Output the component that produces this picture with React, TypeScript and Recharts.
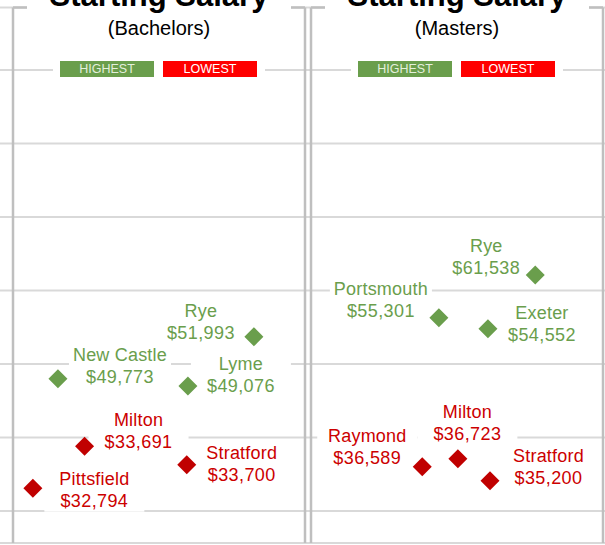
import { CartesianGrid, ReferenceLine, Scatter, ScatterChart, XAxis, YAxis } from "recharts";

// Bachelors panel
const bachelorsTowns = ["Rye", "New Castle", "Lyme", "Milton", "Stratford", "Pittsfield"];
const bachelorsSalary = [51993, 49773, 49076, 33691, 33700, 32794];
const bachelorsRank = ["high", "high", "high", "low", "low", "low"];
const bachelorsX = [82.5, 15.4, 59.9, 24.5, 59.5, 6.8]; // % across the panel
const bachelorsY = [2.37, 1.8, 1.7, 0.88, 0.63, 0.31]; // grid rows

// Masters panel
const mastersTowns = ["Rye", "Portsmouth", "Exeter", "Raymond", "Milton", "Stratford"];
const mastersSalary = [61538, 55301, 54552, 36589, 36723, 35200];
const mastersRank = ["high", "high", "high", "low", "low", "low"];
const mastersX = [76.8, 43.8, 60.6, 38.1, 50.3, 61.3];
const mastersY = [3.21, 2.63, 2.48, 0.6, 0.71, 0.41];

const gridRows = [0, 1, 2, 3, 4, 5, 6];

// label placement (px offset of label centre from its marker)
const bachelorsLabelPos = [[-53, -15], [62, -13], [53, -11.5], [54, -16], [55, -1.5], [61.5, 1.5]];
const mastersLabelPos = [[-49, -18], [-58, -18], [54, -5], [-55, -20], [9.5, -36], [58.5, -14]];

const FONT = "'Liberation Sans', Arial, sans-serif";
const GREEN = "#6a9e4c";
const RED_TEXT = "#cc0000";
const RED_MARK = "#c00000";
const BORDER = "#bfbfbf";
const GRID = "#d9d9d9";

const Y_DOMAIN: [number, number] = [-0.436, 6.85];

const fmt = (v: number) => "$" + v.toLocaleString("en-US");

let ctx: CanvasRenderingContext2D | null = null;
function textWidth(s: string) {
  if (!ctx) ctx = document.createElement("canvas").getContext("2d");
  if (!ctx) return s.length * 9;
  ctx.font = `18px ${FONT}`;
  return ctx.measureText(s).width;
}

function Diamond(props: any) {
  const { cx, cy, payload } = props;
  const r = 9.5;
  return (
    <polygon
      points={`${cx},${cy - r} ${cx + r},${cy} ${cx},${cy + r} ${cx - r},${cy}`}
      fill={payload.rank === "high" ? GREEN : RED_MARK}
    />
  );
}

function makeLabel(pos: number[][]) {
  return (props: any) => {
    const { cx, cy, payload } = props;
    const [dx, dy] = pos[payload.i];
    const lx = cx + dx;
    const ly = cy + dy;
    const value = fmt(payload.salary);
    const w = Math.max(100, Math.max(textWidth(payload.town), textWidth(value)) + 10);
    const color = payload.rank === "high" ? GREEN : RED_TEXT;
    return (
      <g>
        <rect x={lx - w / 2} y={ly - 22} width={w} height={44} fill="#fff" />
        <text x={lx} y={ly - 4.6} textAnchor="middle" fontSize={18} fontFamily={FONT} fill={color} letterSpacing={0.2}>
          {payload.town}
        </text>
        <text x={lx} y={ly + 17.4} textAnchor="middle" fontSize={18} fontFamily={FONT} fill={color} letterSpacing={0.4}>
          {value}
        </text>
      </g>
    );
  };
}

function Panel({
  left, width, xDomain, towns, salary, rank, xs, ys, labelPos, subtitle,
}: {
  left: number; width: number; xDomain: [number, number];
  towns: string[]; salary: number[]; rank: string[]; xs: number[]; ys: number[];
  labelPos: number[][]; subtitle: string;
}) {
  const data = towns.map((town, i) => ({ i, town, salary: salary[i], rank: rank[i], x: xs[i], y: ys[i] }));
  const [yMin, yMax] = Y_DOMAIN;
  // where the panel box sits in screen px, for overlays
  const pxPerUnit = width / (xDomain[1] - xDomain[0]);
  const boxL = (0 - xDomain[0]) * pxPerUnit;
  const boxR = (100 - xDomain[0]) * pxPerUnit;
  const mid = (boxL + boxR) / 2;
  return (
    <div style={{ position: "absolute", left, top: 0, width, height: 545 }}>
      <ScatterChart width={width} height={545} margin={{ top: 7.5, right: 0, bottom: 2, left: 0 }}>
        <CartesianGrid vertical={false} stroke={GRID} strokeWidth={2} />
        <XAxis type="number" dataKey="x" domain={xDomain} allowDataOverflow hide />
        <YAxis type="number" dataKey="y" domain={Y_DOMAIN} ticks={gridRows} allowDataOverflow hide />
        <ReferenceLine y={yMin} stroke={GRID} strokeWidth={1} />
        <ReferenceLine segment={[{ x: 0, y: yMin }, { x: 0, y: yMax }]} stroke={BORDER} strokeWidth={2.5} />
        <ReferenceLine segment={[{ x: 100, y: yMin }, { x: 100, y: yMax }]} stroke={BORDER} strokeWidth={2.5} />
        <ReferenceLine segment={[{ x: 0, y: yMax }, { x: 100, y: yMax }]} stroke={BORDER} strokeWidth={2.5} />
        <Scatter data={data} shape={makeLabel(labelPos)} isAnimationActive={false} />
        <Scatter data={data} shape={Diamond} isAnimationActive={false} />
      </ScatterChart>
      <div
        style={{
          position: "absolute", left: mid - 132, width: 264, top: -20, height: 62,
          background: "#fff", textAlign: "center", fontFamily: FONT, color: "#000",
        }}
      >
        <div style={{ fontSize: 31, lineHeight: "31px", fontWeight: "bold" }}>Starting Salary</div>
        <div style={{ fontSize: 20, lineHeight: "20px", marginTop: 7 }}>{subtitle}</div>
      </div>
      <div
        style={{
          position: "absolute", left: mid - 106, top: 61, width: 212, height: 17,
          background: "#fff", fontFamily: FONT, fontSize: 12.5,
        }}
      >
        <div style={{ position: "absolute", left: 7, top: 0, width: 94, height: 16, background: GREEN, color: "#e4efdc", textAlign: "center", lineHeight: "16px" }}>
          HIGHEST
        </div>
        <div style={{ position: "absolute", left: 110, top: 0, width: 94, height: 16, background: "#ff0000", color: "#fff", textAlign: "center", lineHeight: "16px" }}>
          LOWEST
        </div>
      </div>
    </div>
  );
}

export default function App() {
  return (
    <div style={{ position: "absolute", left: 0, top: 0, width: 605, height: 545, overflow: "hidden", background: "#fff" }}>
      <Panel
        left={0} width={308} xDomain={[-13 / 2.92, (308 - 13) / 2.92]}
        towns={bachelorsTowns} salary={bachelorsSalary} rank={bachelorsRank}
        xs={bachelorsX} ys={bachelorsY} labelPos={bachelorsLabelPos} subtitle="(Bachelors)"
      />
      <Panel
        left={308} width={297} xDomain={[(308 - 311) / 2.92, (605 - 311) / 2.92]}
        towns={mastersTowns} salary={mastersSalary} rank={mastersRank}
        xs={mastersX} ys={mastersY} labelPos={mastersLabelPos} subtitle="(Masters)"
      />
    </div>
  );
}
